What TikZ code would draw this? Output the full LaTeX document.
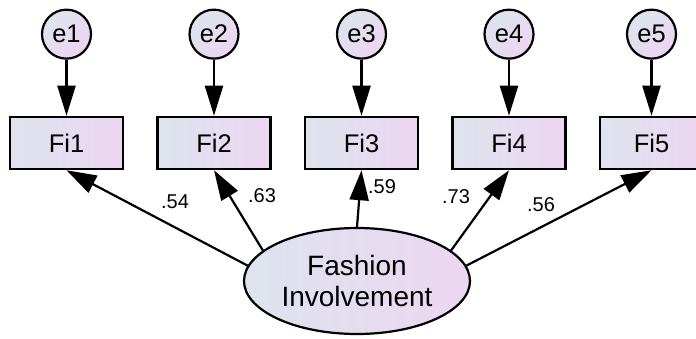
\documentclass[tikz,border=0pt]{standalone}
\usepackage{fontspec}
\setmainfont{Liberation Sans}
\usepackage{xcolor}
\definecolor{shadeL}{HTML}{DDE4EE}
\definecolor{shadeR}{HTML}{ECD6F1}
\usetikzlibrary{arrows.meta, positioning, shapes.geometric}
\tikzset{
    obsbox/.style={rectangle, draw, line width=2.5pt, minimum width=113pt,
                   minimum height=52pt, inner sep=0pt,
                   left color=shadeL, right color=shadeR,
                   font=\fontsize{25.5}{28}\selectfont},
    errvar/.style={circle, draw, line width=2.2pt, minimum size=49pt, inner sep=0pt,
                   left color=shadeL, right color=shadeR, shading angle=45,
                   font=\fontsize{25.5}{28}\selectfont},
    latent/.style={ellipse, draw, line width=2.2pt, minimum width=226pt,
                   minimum height=106pt, inner sep=0pt, align=center,
                   left color=shadeL, right color=shadeR,
                   font=\fontsize{28}{31}\selectfont},
    errpath/.style={-{Triangle[length=30pt, width=18pt]}, line width=2.2pt},
    loading/.style={-{Triangle[length=30pt, width=19pt]}, line width=2.2pt},
    wt/.style={font=\fontsize{20}{24}\selectfont, inner sep=0pt},
}

\begin{document}
\begin{tikzpicture}[x=1pt, y=1pt, node distance=32pt]
    \useasboundingbox (0,0) rectangle (696,338);
    % indicators
    \node[obsbox] (Fi1) at (66.5,195) {Fi1};
    \node[obsbox, right=of Fi1] (Fi2) {Fi2};
    \node[obsbox, right=of Fi2] (Fi3) {Fi3};
    \node[obsbox, right=of Fi3] (Fi4) {Fi4};
    \node[obsbox, minimum width=103pt, right=of Fi4] (Fi5) {Fi5};
    % error terms
    \node[errvar, above=56pt of Fi1] (e1) {e1};
    \node[errvar, above=56pt of Fi2] (e2) {e2};
    \node[errvar, above=56pt of Fi3] (e3) {e3};
    \node[errvar, above=56pt of Fi4] (e4) {e4};
    \node[errvar, above=56pt of Fi5] (e5) {e5};
    % latent factor
    \node[latent] (FI) at (357,57) {Fashion\\Involvement};
    \draw[errpath] (e1) -- (Fi1);
    \draw[errpath] (e2) -- (Fi2);
    \draw[errpath] (e3) -- (Fi3);
    \draw[errpath] (e4) -- (Fi4);
    \draw[errpath] (e5) -- (Fi5);
    \draw[loading] (FI.172) -- (Fi1.south);
    \draw[loading] (FI.162) -- (Fi2.south);
    \draw[loading] (FI.90) -- (Fi3.south);
    \draw[loading] (FI.18) -- (Fi4.south);
    \draw[loading] (FI.8) -- (Fi5.south);
    % standardized loadings
    \node[wt] (w1) at (175,136) {.54};
    \node[wt] (w2) at (262,142) {.63};
    \node[wt] (w3) at (382,151) {.59};
    \node[wt] (w4) at (456,141) {.73};
    \node[wt] (w5) at (541,133) {.56};
\end{tikzpicture}
\end{document}
